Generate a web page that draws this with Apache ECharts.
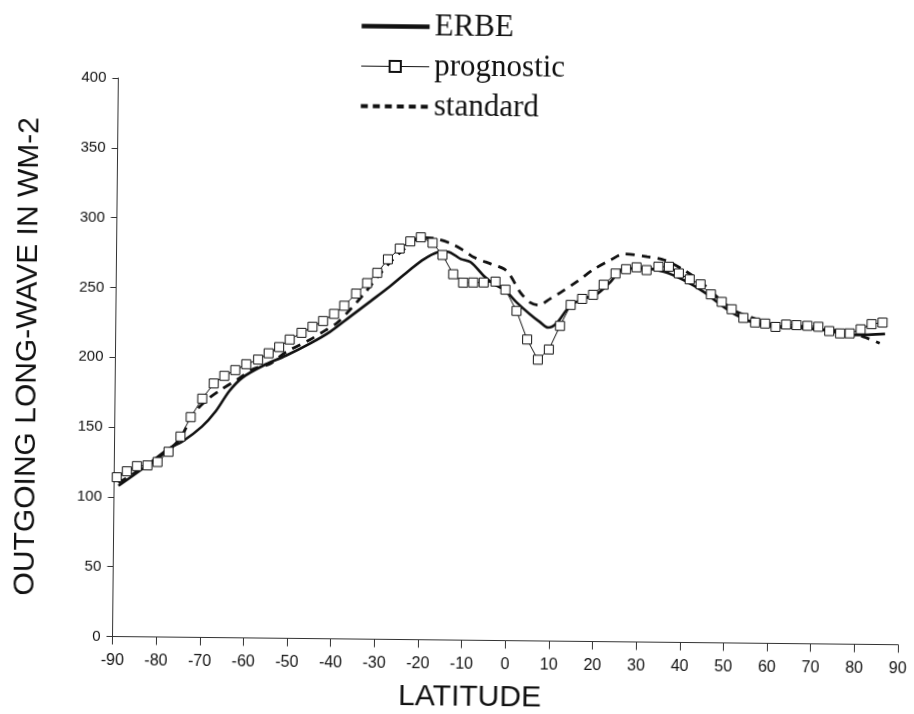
<!DOCTYPE html>
<html>
<head>
<meta charset="utf-8">
<script src="https://cdn.jsdelivr.net/npm/echarts/dist/echarts.min.js"></script>
<style>
  html, body { margin: 0; padding: 0; background: #fff; overflow: hidden; }
  #chart { width: 914px; height: 714px; transform: rotate(0.6deg); transform-origin: 112.5px 636.5px; }
</style>
</head>
<body>
<div id="chart"></div>
<script>
// ---- data ----
const seriesNames = ['ERBE', 'prognostic', 'standard'];

const erbeLat = [-89, -83.7, -77.6, -74.5, -70, -66.9, -63.8, -60.8, -56.2, -50.9, -45.5, -40.9, -36.3, -31.7, -27.2, -22.6, -19.5, -16.5, -14.2, -11.1, -8.8, -5.8, -3.5, -0.8, 1.85, 4.9, 7.2, 9.1, 11.0, 14.1, 17.1, 20.2, 23.2, 26.3, 30.9, 35.5, 40, 44.6, 49.2, 52.3, 56.1, 61.4, 66, 70.6, 75.2, 79.8, 86.3];
const erbeVal = [108, 120, 135, 140, 151, 162, 176.7, 186.5, 195, 202.5, 211.2, 219.8, 230.9, 242, 253, 265.2, 272.6, 277.5, 278.1, 273, 270.7, 261.1, 255.3, 250.6, 242.2, 233.9, 228.4, 224.5, 227.7, 240.4, 245.3, 249, 257.5, 267.4, 267.6, 265.3, 259.5, 251.3, 240.7, 234.7, 229.7, 226.7, 226.2, 225.4, 223.2, 221.5, 222.5];

const progLat = [-89.4, -87.1, -84.8, -82.4, -80.1, -77.6, -74.9, -72.6, -70.0, -67.4, -65.0, -62.5, -60.0, -57.3, -54.9, -52.5, -50.1, -47.4, -44.9, -42.5, -40.0, -37.7, -35.0, -32.5, -30.2, -27.8, -25.1, -22.7, -20.3, -17.6, -15.3, -12.8, -10.5, -8.2, -5.8, -3.1, -0.8, 1.8, 4.3, 6.8, 9.3, 11.8, 14.2, 16.8, 19.3, 21.7, 24.4, 26.8, 29.2, 31.5, 34.2, 36.6, 38.9, 41.4, 43.9, 46.3, 48.8, 51.1, 53.8, 56.5, 58.8, 61.2, 63.6, 66.0, 68.5, 71.0, 73.5, 76.0, 78.2, 80.7, 83.2, 85.7];
const progVal = [114.1, 118.4, 122.2, 122.8, 125.3, 132.7, 143.7, 157.7, 171, 182, 187.5, 191.7, 196, 199.4, 204, 208.5, 214, 218.9, 223.3, 227.5, 232.7, 238.6, 247.4, 255, 262.4, 272.2, 280, 285.2, 288.2, 284.3, 275.7, 262, 256, 256.2, 256.3, 257, 251.3, 236.2, 215.8, 201.4, 208.8, 225.8, 240.9, 245.3, 248.3, 255.6, 263.7, 266.9, 268.3, 266.4, 268.9, 269, 264.3, 260.1, 256.6, 249.5, 244.2, 239, 232.9, 229.7, 229, 226.7, 228.5, 228.1, 227.7, 227.1, 224.1, 222.5, 222.6, 225.6, 229.4, 230.6];

const stdLat = [-89, -86, -82, -78, -75, -72, -69, -66, -62, -58.5, -54.7, -50.9, -45.5, -42.4, -39.4, -36.3, -33, -30, -27, -24, -20.3, -17.2, -13.4, -10.4, -8.1, -4.25, -1.2, 0.3, 2.6, 4.9, 6.8, 9.5, 12.5, 15.6, 19.4, 23.2, 26.3, 31.6, 35.5, 40, 43.9, 47.7, 51.5, 55.3, 61.4, 69.1, 76.7, 81.3, 85.1];
const stdVal = [110, 116, 124, 133, 142, 160, 170, 177, 185, 192.5, 196.3, 205, 214, 220, 226, 236, 248, 260, 271, 280, 288, 287.5, 284, 279, 274.3, 269.7, 266.2, 261.4, 249.5, 242.3, 240.5, 245.2, 251.1, 257.7, 266.6, 273.3, 277.8, 276, 273.8, 266.8, 258.5, 247.8, 238.3, 233.6, 227.9, 227, 223.7, 220.3, 215.7];

const xAxisTitle = 'LATITUDE';
const yAxisTitle = 'OUTGOING LONG-WAVE IN WM-2';

// ---- build ----
const pairs = (xs, ys) => xs.map((x, i) => [x, ys[i]]);
const ink = '#111';
const sans = 'Liberation Sans, Arial, Helvetica, sans-serif';
const serif = 'Liberation Serif, Times New Roman, serif';

const chart = echarts.init(document.getElementById('chart'), null, { renderer: 'canvas' });
chart.setOption({
  animation: false,
  backgroundColor: '#fff',
  grid: { left: 112.5, right: 16, top: 78, bottom: 77.5 },
  legend: {
    orient: 'vertical',
    left: 348,
    top: 3,
    itemWidth: 68,
    itemHeight: 14,
    itemGap: 9,
    data: [
      { name: seriesNames[0], itemStyle: { opacity: 0 }, lineStyle: { width: 4.5 } },
      { name: seriesNames[1], lineStyle: { width: 1.2 } },
      { name: seriesNames[2], itemStyle: { opacity: 0 }, lineStyle: { width: 4, type: [7, 5] } }
    ],
    textStyle: { fontFamily: serif, fontSize: 31, color: ink }
  },
  xAxis: {
    type: 'value',
    min: -90, max: 90, interval: 10,
    name: xAxisTitle,
    nameLocation: 'middle',
    nameGap: 42,
    nameTextStyle: { fontFamily: sans, fontSize: 30, color: ink, padding: [0, 70, 0, 0] },
    axisLine: { show: true, onZero: false, lineStyle: { color: '#333', width: 1 } },
    axisTick: { show: true, inside: false, length: 8, lineStyle: { color: '#333' } },
    axisLabel: { fontFamily: sans, fontSize: 16, color: ink, margin: 16 },
    splitLine: { show: false }
  },
  yAxis: {
    type: 'value',
    min: 0, max: 400, interval: 50,
    name: yAxisTitle,
    nameLocation: 'middle',
    nameRotate: 90,
    nameGap: 73,
    nameTextStyle: { fontFamily: sans, fontSize: 30, color: ink },
    axisLine: { show: true, onZero: false, lineStyle: { color: '#333', width: 1 } },
    axisTick: { show: true, inside: false, length: 6, lineStyle: { color: '#333' } },
    axisLabel: { fontFamily: sans, fontSize: 15, color: ink, margin: 12 },
    splitLine: { show: false }
  },
  series: [
    {
      name: seriesNames[0],
      type: 'line',
      data: pairs(erbeLat, erbeVal),
      smooth: 0.3,
      symbol: 'none',
      lineStyle: { color: ink, width: 2.6 },
      itemStyle: { color: ink },
      z: 3
    },
    {
      name: seriesNames[1],
      type: 'line',
      data: pairs(progLat, progVal),
      smooth: false,
      symbol: 'rect',
      symbolSize: 9,
      lineStyle: { color: ink, width: 1 },
      itemStyle: { color: '#fff', borderColor: ink, borderWidth: 1 },
      z: 4
    },
    {
      name: seriesNames[2],
      type: 'line',
      data: pairs(stdLat, stdVal),
      smooth: 0.3,
      symbol: 'none',
      lineStyle: { color: ink, width: 2.8, type: [9, 7] },
      itemStyle: { color: ink },
      z: 2
    }
  ]
});
</script>
</body>
</html>
